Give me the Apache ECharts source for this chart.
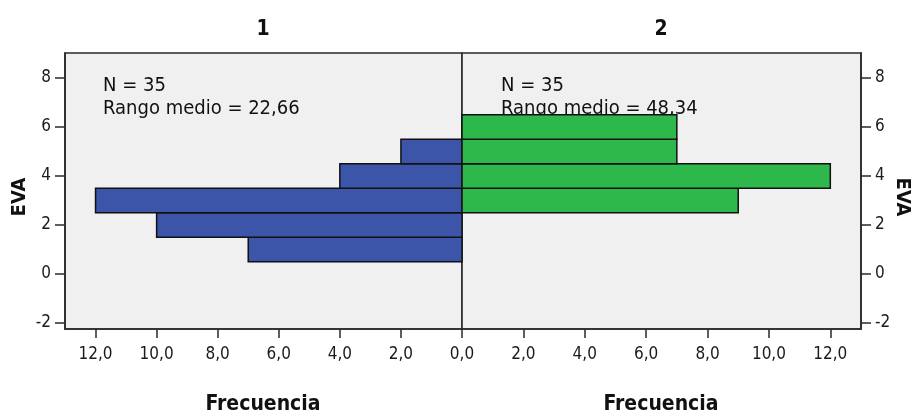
<!DOCTYPE html>
<html>
<head>
<meta charset="utf-8">
<script src="https://cdn.jsdelivr.net/npm/echarts@6/dist/echarts.min.js"></script>
<style>
html,body{margin:0;padding:0;background:#fff;}
#chart{width:912px;height:417px;}
</style>
</head>
<body>
<div id="chart"></div>
<script>
// ---- data ----
const groupNames = ['1', '2'];
const leftBins = [1, 2, 3, 4, 5];
const leftFreq = [7, 10, 12, 4, 2];
const rightBins = [3, 4, 5, 6];
const rightFreq = [9, 12, 7, 7];
const yTicks = [-2, 0, 2, 4, 6, 8];
const xTicks = [0, 2, 4, 6, 8, 10, 12];
const xLabelsRight = [2, 4, 6, 8, 10, 12];
const leftNote = ['N = 35', 'Rango medio = 22,66'];
const rightNote = ['N = 35', 'Rango medio = 48,34'];
const yName = 'EVA';
const xName = 'Frecuencia';

const FONT = "'Liberation Sans Narrow', 'Arial Narrow', 'DejaVu Sans Condensed', 'Liberation Sans', sans-serif";
const BLUE = '#3d55a8';
const GREEN = '#2eb84b';
const FRAME = '#2a2a2a';

function fmt(v) { return v.toFixed(1).replace('.', ','); }

function barItem(color) {
  return function (params, api) {
    const y = api.value(0), f = api.value(1);
    const p1 = api.coord([0, y + 0.5]);
    const p2 = api.coord([f, y - 0.5]);
    return {
      type: 'rect',
      shape: {
        x: Math.min(p1[0], p2[0]), y: Math.min(p1[1], p2[1]),
        width: Math.abs(p2[0] - p1[0]), height: Math.abs(p2[1] - p1[1])
      },
      style: { fill: color, stroke: '#111', lineWidth: 1.5 }
    };
  };
}

const gridTop = 53, gridBottom = 417 - 329;
const chart = echarts.init(document.getElementById('chart'), null, { renderer: 'canvas' });

function xAxisDef(labels) {
  return {
    type: 'value', min: 0, max: 13, position: 'bottom',
    axisLine: { show: true, onZero: false, lineStyle: { color: FRAME, width: 1.6 } },
    axisTick: { show: true, length: 9, inside: false, customValues: xTicks, lineStyle: { color: FRAME, width: 1.5 } },
    axisLabel: { customValues: labels, formatter: fmt, margin: 17, fontFamily: FONT, fontSize: 17, color: '#1a1a1a' },
    splitLine: { show: false }
  };
}
const yAxisCommon = {
  type: 'value', min: -2.25, max: 9.02,
  axisLine: { show: true, onZero: false, lineStyle: { color: FRAME, width: 1.6 } },
  axisTick: { show: true, length: 10, inside: false, customValues: yTicks, lineStyle: { color: FRAME, width: 1.5 } },
  axisLabel: { customValues: yTicks, margin: 14, fontFamily: FONT, fontSize: 17, color: '#1a1a1a' },
  splitLine: { show: false }
};

function textEl(str, x, y, size, bold, align, rot) {
  return {
    type: 'text', x: x, y: y, rotation: rot || 0, z: 2,
    style: {
      text: str, fill: '#111', font: (bold ? 'bold ' : '') + size + 'px ' + FONT,
      textAlign: align || 'center', textVerticalAlign: 'middle'
    }
  };
}

const option = {
  animation: false,
  backgroundColor: '#ffffff',
  grid: [
    { left: 65, right: 912 - 462, top: gridTop, bottom: gridBottom, show: true, backgroundColor: '#f0f0f0', borderColor: FRAME, borderWidth: 1.6, z: 0 },
    { left: 462, right: 912 - 861, top: gridTop, bottom: gridBottom, show: true, backgroundColor: '#f0f0f0', borderColor: FRAME, borderWidth: 1.6, z: 0 }
  ],
  xAxis: [
    Object.assign(xAxisDef(xTicks), { gridIndex: 0, inverse: true }),
    Object.assign(xAxisDef(xLabelsRight), { gridIndex: 1 })
  ],
  yAxis: [
    Object.assign({}, yAxisCommon, { gridIndex: 0, position: 'left' }),
    Object.assign({}, yAxisCommon, { gridIndex: 1, position: 'right' })
  ],
  graphic: [
    textEl(groupNames[0], 263, 30, 21, true),
    textEl(groupNames[1], 661, 30, 21, true),
    textEl(xName, 263, 405, 21, true),
    textEl(xName, 661, 405, 21, true),
    textEl(yName, 20, 197, 20, true, 'center', Math.PI / 2),
    textEl(yName, 902, 197, 20, true, 'center', -Math.PI / 2),
    textEl(leftNote[0], 103, 86, 20, false, 'left'),
    textEl(leftNote[1], 103, 109, 20, false, 'left'),
    textEl(rightNote[0], 501, 86, 20, false, 'left'),
    textEl(rightNote[1], 501, 109, 20, false, 'left')
  ],
  series: [
    {
      type: 'custom', xAxisIndex: 0, yAxisIndex: 0, z: 5,
      encode: { x: 1, y: 0 },
      data: leftBins.map((b, i) => [b, leftFreq[i]]),
      renderItem: barItem(BLUE)
    },
    {
      type: 'custom', xAxisIndex: 1, yAxisIndex: 1, z: 5,
      encode: { x: 1, y: 0 },
      data: rightBins.map((b, i) => [b, rightFreq[i]]),
      renderItem: barItem(GREEN)
    }
  ]
};
chart.setOption(option);
</script>
</body>
</html>
